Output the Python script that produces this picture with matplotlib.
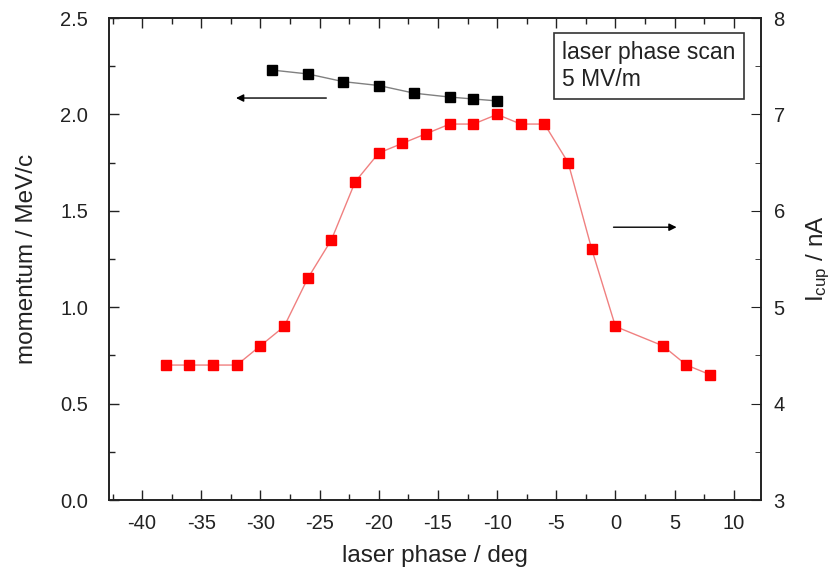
import matplotlib
matplotlib.use("Agg")
import matplotlib.pyplot as plt
from matplotlib.ticker import MultipleLocator, FormatStrFormatter

plt.rcParams["font.family"] = ["Liberation Sans", "DejaVu Sans"]
plt.rcParams["mathtext.default"] = "regular"
plt.rcParams["axes.unicode_minus"] = False

# momentum (left axis)
phase_p = [-29, -26, -23, -20, -17, -14, -12, -10]
momentum = [2.23, 2.21, 2.17, 2.15, 2.11, 2.09, 2.08, 2.07]

# cup current (right axis)
phase_i = [-38, -36, -34, -32, -30, -28, -26, -24, -22, -20, -18, -16,
           -14, -12, -10, -8, -6, -4, -2, 0, 4, 6, 8]
i_cup = [4.4, 4.4, 4.4, 4.4, 4.6, 4.8, 5.3, 5.7, 6.3, 6.6, 6.7, 6.8,
         6.9, 6.9, 7.0, 6.9, 6.9, 6.5, 5.6, 4.8, 4.6, 4.4, 4.3]

fig = plt.figure(figsize=(8.3, 5.74), dpi=100)
ax = fig.add_axes([0.1313, 0.1289, 0.7856, 0.8397])
ax2 = ax.twinx()

ax.plot(phase_p, momentum, color="#808080", lw=1, marker="s", ms=7,
        mfc="black", mec="black", zorder=3)
ax2.plot(phase_i, i_cup, color="#f08080", lw=1, marker="s", ms=7.5,
         mfc="#ff0000", mec="#ff0000", zorder=3)

ax.set_xlim(-42.8, 12.3)
ax.set_ylim(0, 2.5)
ax2.set_ylim(3, 8)

ax.xaxis.set_major_locator(MultipleLocator(5))
ax.xaxis.set_minor_locator(MultipleLocator(2.5))
ax.yaxis.set_major_locator(MultipleLocator(0.5))
ax.yaxis.set_minor_locator(MultipleLocator(0.25))
ax.yaxis.set_major_formatter(FormatStrFormatter("%.1f"))
ax2.yaxis.set_major_locator(MultipleLocator(1))
ax2.yaxis.set_minor_locator(MultipleLocator(0.5))

ax.tick_params(which="both", direction="in", top=True, labelsize=14.5,
               width=1, colors="#222222")
ax.tick_params(axis="y", which="major", length=7, pad=15)
ax.tick_params(axis="x", which="major", length=7, pad=10)
ax.tick_params(which="minor", length=4)
ax2.tick_params(which="both", direction="in", labelsize=14.5, colors="#222222")
ax2.tick_params(which="major", length=7, pad=9)
ax2.tick_params(which="minor", length=4)
for a in (ax, ax2):
    for s in a.spines.values():
        s.set_linewidth(1.2)
        s.set_color("#222222")

ax.set_xlabel("laser phase / deg", fontsize=17.5, labelpad=9, color="#222222")
ax.set_ylabel("momentum / MeV/c", fontsize=17.5, labelpad=16, color="#222222")
ax2.set_ylabel("I$_{cup}$ / nA", fontsize=17.5, labelpad=14, color="#222222")

ax.annotate("", xy=(-32.3, 2.085), xytext=(-24.2, 2.085),
            arrowprops=dict(arrowstyle="-|>", color="black", lw=1,
                            mutation_scale=11))
ax2.annotate("", xy=(5.4, 5.83), xytext=(-0.4, 5.83),
             arrowprops=dict(arrowstyle="-|>", color="black", lw=1,
                             mutation_scale=11))

ax.text(0.695, 0.952, "laser phase scan\n5 MV/m", transform=ax.transAxes,
        ha="left", va="top", fontsize=16.5, color="#222222", linespacing=1.2,
        bbox=dict(boxstyle="square,pad=0.35", fc="white", ec="#333333", lw=1.2))

fig.savefig("out.png", dpi=100)
